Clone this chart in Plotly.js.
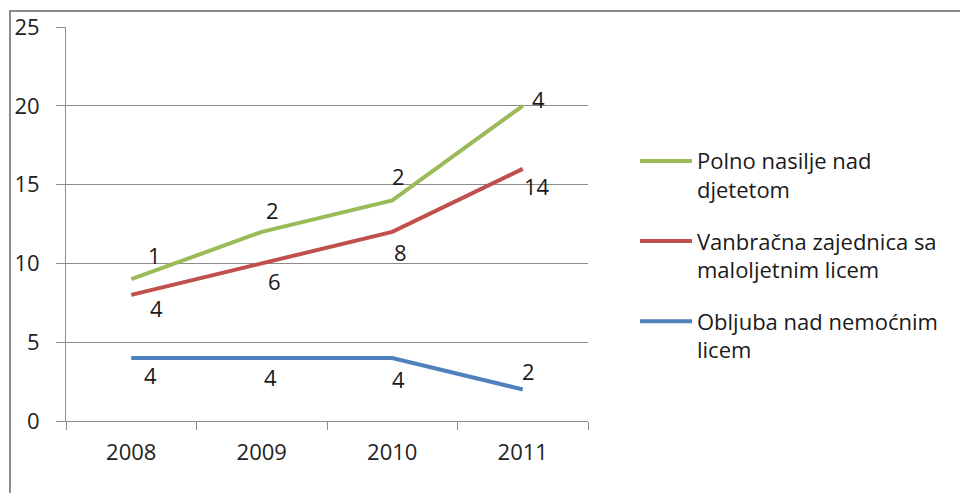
<!DOCTYPE html>
<html>
<head>
<meta charset="utf-8">
<script src="https://cdn.plot.ly/plotly-3.0.1.min.js"></script>
<style>
  html, body { margin: 0; padding: 0; background: #ffffff; }
  #frame { position: absolute; left: 9px; top: 10px; width: 960px; height: 500px;
           border-left: 2px solid #8c8c8c; border-top: 2px solid #8c8c8c; }
  #chart { position: absolute; left: 0; top: 0; width: 960px; height: 493px; }
</style>
</head>
<body>
<div id="frame"></div>
<div id="chart"></div>
<script>
// ---- data ----
const years = ['2008', '2009', '2010', '2011'];
const obljuba = [4, 4, 4, 2];        // Obljuba nad nemoćnim licem
const vanbracna = [4, 6, 8, 14];     // Vanbračna zajednica sa maloljetnim licem
const polno = [1, 2, 2, 4];          // Polno nasilje nad djetetom
const yTicks = [0, 5, 10, 15, 20, 25];

const seriesNames = ['Obljuba nad nemoćnim<br>licem', 'Vanbračna zajednica sa<br>maloljetnim licem', 'Polno nasilje nad<br>djetetom'];
const seriesValues = [obljuba, vanbracna, polno];

// ---- styles ----
const colors = ['#4F81BD', '#C0504D', '#9BBB59'];
const font = 'Open Sans, Noto Sans, sans-serif';
// label offsets (px) relative to each stacked point
const labelShifts = [
  [[19, -17], [9, -19], [6, -21], [6, 18]],
  [[25, -13], [13, -18], [8, -20], [14, -17]],
  [[23, 24], [11, 22], [6, 24], [16, 7]]
];

// stacked line chart: each series drawn on top of the previous ones
const traces = [];
const annotations = [];
const cum = years.map(() => 0);
seriesValues.forEach((vals, si) => {
  const stacked = vals.map((v, i) => (cum[i] += v));
  traces.push({
    type: 'scatter', mode: 'lines', x: years, y: stacked,
    name: seriesNames[si], legendgroup: 'g' + si, legendrank: 3 - si,
    line: { color: colors[si], width: 4 },
    hoverinfo: 'skip'
  });
  vals.forEach((v, i) => {
    annotations.push({
      x: i, y: stacked[i], xref: 'x', yref: 'y', text: String(v),
      showarrow: false, xshift: labelShifts[si][i][0], yshift: labelShifts[si][i][1],
      font: { family: font, size: 22, color: '#1a1a1a' }
    });
  });
});

const layout = {
  width: 960, height: 493,
  margin: { l: 66, r: 372, t: 27, b: 72, pad: 0 },
  paper_bgcolor: 'rgba(0,0,0,0)', plot_bgcolor: 'rgba(0,0,0,0)',
  showlegend: true,
  legend: {
    x: 1.09, xanchor: 'left', xref: 'paper', y: 0.713, yanchor: 'top',
    traceorder: 'grouped', tracegroupgap: 20, valign: 'top',
    itemwidth: 52,
    font: { family: font, size: 22, color: '#1a1a1a' },
    bgcolor: 'rgba(0,0,0,0)'
  },
  xaxis: {
    type: 'category', categoryarray: years, range: [-0.5, 3.5],
    tickson: 'boundaries', ticks: 'outside', ticklen: 8,
    tickcolor: '#8c8c8c', showline: true, linecolor: '#8c8c8c', linewidth: 1,
    showgrid: false, zeroline: false, tickangle: 0,
    tickfont: { family: font, size: 22, color: '#222' },
    ticklabelstandoff: 12, fixedrange: true
  },
  yaxis: {
    range: [0, 25], tickvals: yTicks, ticks: 'outside', ticklen: 9,
    tickcolor: '#8c8c8c', showline: true, linecolor: '#8c8c8c', linewidth: 1,
    showgrid: true, gridcolor: '#8c8c8c', gridwidth: 1, zeroline: false,
    tickfont: { family: font, size: 22, color: '#222' },
    ticklabelstandoff: 12, fixedrange: true
  },
  annotations: annotations
};

Plotly.newPlot('chart', traces, layout, { displayModeBar: false, staticPlot: true });
</script>
</body>
</html>
